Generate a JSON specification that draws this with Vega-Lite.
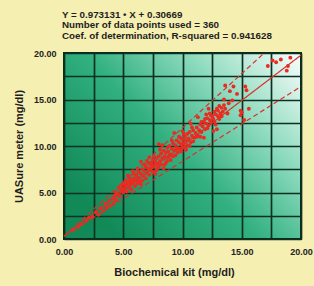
{
  "$schema": "https://vega.github.io/schema/vega-lite/v6.json",
  "width": 237,
  "height": 186,
  "autosize": "none",
  "padding": {"left": 64, "top": 53, "right": 13, "bottom": 47},
  "background": "#f6efb2",
  "title": {
    "text": ["Y = 0.973131 • X + 0.30669", "Number of data points used = 360", "Coef. of determination, R-squared = 0.941628"],
    "anchor": "start",
    "frame": "group",
    "offset": 8,
    "fontSize": 9.8,
    "fontWeight": "bold",
    "font": "Liberation Sans",
    "color": "#1e1e1e",
    "lineHeight": 10.8,
    "dx": -2
  },
  "config": {
    "view": {
      "stroke": "#0a2a1a",
      "strokeWidth": 2,
      "fill": {"expr": "{gradient: 'linear', x1: 0.05, y1: 0.75, x2: 1, y2: 0.05, stops: [{offset: 0, color: '#128a58'}, {offset: 0.4, color: '#32b080'}, {offset: 0.7, color: '#8edbbf'}, {offset: 1, color: '#f2fbf8'}]}"}
    },
    "axis": {
      "grid": true,
      "gridColor": "#0b3220",
      "gridWidth": 1.7,
      "gridOpacity": 1,
      "domain": false,
      "ticks": false,
      "labelFont": "Liberation Sans",
      "labelFontWeight": "bold",
      "labelFontSize": 9,
      "labelColor": "#222222",
      "titleFont": "Liberation Sans",
      "titleFontWeight": "bold",
      "titleFontSize": 11,
      "titleColor": "#1e1e1e"
    }
  },
  "encoding": {
    "x": {
      "field": "x", "type": "quantitative",
      "scale": {"domain": [0, 20], "nice": false},
      "axis": {
        "values": [0, 2.5, 5, 7.5, 10, 12.5, 15, 17.5, 20],
        "labelExpr": "datum.value % 5 === 0 ? format(datum.value, '.2f') : ''",
        "labelPadding": 8,
        "title": "Biochemical kit (mg/dl)",
        "titlePadding": 10,
        "titleX": 110,
        "labelFlush": false
      }
    },
    "y": {
      "field": "y", "type": "quantitative",
      "scale": {"domain": [0, 20], "nice": false},
      "axis": {
        "values": [0, 2.5, 5, 7.5, 10, 12.5, 15, 17.5, 20],
        "labelExpr": "datum.value % 5 === 0 ? format(datum.value, '.2f') : ''",
        "labelPadding": 8,
        "title": "UASure meter (mg/dl)",
        "titlePadding": 9,
        "labelFlush": false
      }
    }
  },
  "layer": [
    {
      "data": {"values": [
        {"series": "fit", "x": 0, "y": 0.307},
        {"series": "fit", "x": 20, "y": 19.77},
        {"series": "upper", "x": 0, "y": 0.3},
        {"series": "upper", "x": 16.9, "y": 20},
        {"series": "lower", "x": 0, "y": 0.3},
        {"series": "lower", "x": 20, "y": 16.4}
      ]},
      "mark": {"type": "line", "color": "#dc302a", "strokeWidth": 1.2},
      "encoding": {
        "detail": {"field": "series"},
        "strokeDash": {
          "field": "series",
          "type": "nominal",
          "scale": {"domain": ["fit", "upper", "lower"], "range": [[1, 0], [5, 3], [5, 3]]},
          "legend": null
        }
      }
    },
    {
      "data": {"values": [
        {"x":0.8,"y":1.0},{"x":1.2,"y":1.3},{"x":1.5,"y":1.6},{"x":1.9,"y":2.0},{"x":2.1,"y":2.3},{"x":2.4,"y":2.4},{"x":2.7,"y":2.9},{"x":2.9,"y":2.6},{"x":3.1,"y":3.3},{"x":3.3,"y":3.0},{"x":3.5,"y":3.8},{"x":3.6,"y":3.4},{"x":3.8,"y":4.1},{"x":3.9,"y":3.6},{"x":4.1,"y":4.4},{"x":4.2,"y":3.9},{"x":4.3,"y":4.7},{"x":4.4,"y":4.2},
        {"x":4.5,"y":4.9},{"x":4.6,"y":5.5},{"x":4.7,"y":4.6},{"x":4.8,"y":5.2},{"x":4.9,"y":5.8},{"x":5.0,"y":5.0},{"x":5.0,"y":6.0},{"x":5.1,"y":5.4},{"x":5.2,"y":5.7},{"x":5.2,"y":6.3},{"x":5.3,"y":5.1},{"x":5.3,"y":5.9},{"x":5.4,"y":6.1},{"x":5.5,"y":5.5},{"x":5.5,"y":6.6},{"x":5.6,"y":5.8},{"x":5.7,"y":6.2},{"x":5.7,"y":5.3},{"x":5.8,"y":6.0},{"x":5.9,"y":6.5},{"x":6.0,"y":5.7},{"x":6.0,"y":6.3},{"x":6.1,"y":6.9},{"x":6.2,"y":6.0},{"x":6.3,"y":6.6},{"x":6.3,"y":7.2},{"x":6.4,"y":6.2},{"x":6.5,"y":7.0},{"x":6.5,"y":5.9},
        {"x":6.6,"y":7.5},{"x":6.7,"y":6.8},{"x":6.8,"y":7.3},{"x":6.9,"y":6.5},{"x":6.9,"y":7.8},{"x":7.0,"y":7.1},{"x":7.1,"y":7.6},{"x":7.1,"y":8.2},{"x":7.2,"y":6.9},{"x":7.3,"y":7.4},{"x":7.3,"y":8.0},{"x":7.4,"y":7.7},{"x":7.5,"y":8.5},{"x":7.5,"y":7.2},{"x":7.6,"y":7.9},{"x":7.7,"y":8.3},{"x":7.7,"y":7.0},{"x":7.8,"y":8.7},{"x":7.9,"y":7.6},{"x":7.9,"y":8.1},{"x":8.0,"y":8.9},{"x":8.0,"y":7.8},{"x":8.1,"y":8.4},{"x":8.2,"y":9.2},{"x":8.2,"y":8.0},{"x":8.3,"y":8.7},{"x":8.4,"y":9.5},{"x":8.4,"y":7.6},{"x":8.5,"y":8.9},{"x":8.6,"y":9.3},{"x":8.6,"y":8.2},{"x":8.7,"y":9.8},{"x":8.8,"y":8.8},{"x":8.8,"y":9.4},{"x":8.9,"y":10.0},{"x":9.0,"y":9.1},{"x":9.0,"y":8.5},
        {"x":9.1,"y":9.7},{"x":9.2,"y":10.3},{"x":9.2,"y":8.9},{"x":9.3,"y":9.5},{"x":9.4,"y":10.1},{"x":9.4,"y":9.0},{"x":9.5,"y":10.6},{"x":9.6,"y":9.8},{"x":9.6,"y":9.3},{"x":9.7,"y":10.4},{"x":9.8,"y":9.6},{"x":9.8,"y":10.9},{"x":9.9,"y":10.2},{"x":10.0,"y":9.8},{"x":10.0,"y":10.7},{"x":10.1,"y":10.3},{"x":10.2,"y":11.0},{"x":10.2,"y":9.9},{"x":10.3,"y":10.6},{"x":10.4,"y":11.3},{"x":10.4,"y":10.1},{"x":10.5,"y":10.8},{"x":10.6,"y":11.5},{"x":10.7,"y":10.4},{"x":10.8,"y":11.1},{"x":10.9,"y":11.7},{"x":11.0,"y":10.9},
        {"x":11.1,"y":11.4},{"x":11.2,"y":12.0},{"x":11.3,"y":11.1},{"x":11.4,"y":11.7},{"x":11.5,"y":12.3},{"x":11.6,"y":11.5},{"x":11.7,"y":12.1},{"x":11.8,"y":12.6},{"x":11.9,"y":11.8},{"x":12.0,"y":12.4},{"x":12.1,"y":13.0},{"x":12.2,"y":12.2},{"x":12.3,"y":12.8},{"x":12.3,"y":13.5},{"x":12.4,"y":12.5},{"x":12.5,"y":13.2},{"x":12.6,"y":12.9},{"x":12.7,"y":13.7},{"x":12.7,"y":12.6},{"x":12.8,"y":13.4},{"x":12.9,"y":14.0},{"x":13.0,"y":13.2},{"x":13.0,"y":13.8},{"x":13.1,"y":14.3},{"x":13.2,"y":13.5},{"x":13.3,"y":14.1},{"x":13.4,"y":13.7},{"x":13.5,"y":14.4},{"x":13.6,"y":14.0},
        {"x":14.0,"y":15.9},{"x":13.6,"y":16.5},{"x":14.3,"y":16.4},{"x":14.6,"y":15.6},{"x":15.3,"y":16.4},{"x":15.4,"y":16.0},{"x":14.9,"y":13.8},{"x":14.9,"y":13.3},{"x":15.0,"y":13.6},{"x":15.6,"y":14.0},{"x":15.2,"y":12.8},{"x":12.9,"y":11.8},{"x":12.6,"y":11.6},{"x":11.8,"y":10.9},{"x":9.3,"y":11.4},{"x":8.0,"y":10.2},{"x":6.5,"y":8.3},{"x":5.8,"y":7.3},{"x":13.9,"y":14.6},{"x":14.2,"y":14.9},{"x":10.7,"y":12.4},{"x":11.3,"y":13.1},
        {"x":5.4,"y":6.8},{"x":5.9,"y":7.0},{"x":6.2,"y":7.6},{"x":6.6,"y":6.3},{"x":7.0,"y":8.4},{"x":7.2,"y":8.8},{"x":7.6,"y":8.9},{"x":8.1,"y":9.6},{"x":8.3,"y":10.1},{"x":8.5,"y":8.0},{"x":8.9,"y":9.0},{"x":9.1,"y":10.6},{"x":9.5,"y":9.7},{"x":9.7,"y":11.0},{"x":10.1,"y":11.3},{"x":10.3,"y":9.6},{"x":10.6,"y":10.0},{"x":10.9,"y":10.5},{"x":11.2,"y":11.0},{"x":11.5,"y":11.0},{"x":11.6,"y":12.6},{"x":11.9,"y":12.9},{"x":12.1,"y":11.9},{"x":12.4,"y":13.3},{"x":12.8,"y":12.3},{"x":13.1,"y":12.9},{"x":13.3,"y":13.2},{"x":12.0,"y":13.4},{"x":6.8,"y":8.0},{"x":7.4,"y":8.2},{"x":7.8,"y":7.4},{"x":8.7,"y":8.4},{"x":9.9,"y":9.4},{"x":10.8,"y":12.0},{"x":6.1,"y":6.5},{"x":5.6,"y":6.4},{"x":4.9,"y":5.4},{"x":4.4,"y":5.0},{"x":13.8,"y":13.5},{"x":13.5,"y":15.0},{"x":12.2,"y":14.0},{"x":10.0,"y":11.6},
        {"x":17.2,"y":18.6},{"x":17.6,"y":19.2},{"x":17.9,"y":19.0},{"x":18.3,"y":19.3},{"x":18.8,"y":18.1},{"x":18.9,"y":18.6},{"x":19.1,"y":19.5}
      ]},
      "mark": {"type": "circle", "color": "#ec2a22", "opacity": 1, "size": 15}
    }
  ]
}
